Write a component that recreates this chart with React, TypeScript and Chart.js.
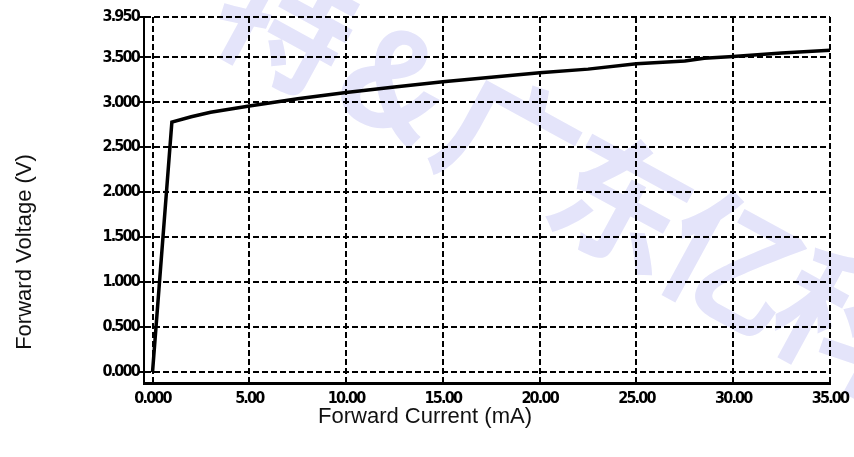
import React, { useEffect, useRef } from "react";
import { Chart, registerables } from "chart.js";

Chart.register(...registerables);

// Data
const currentMA = [0, 1, 2, 3, 5, 7.5, 10, 12.5, 15, 17.5, 20, 22.5, 25, 27.5, 28.5, 30, 32.5, 35];
const voltageV = [0, 2.78, 2.84, 2.89, 2.96, 3.04, 3.11, 3.17, 3.23, 3.28, 3.33, 3.37, 3.43, 3.46, 3.49, 3.51, 3.55, 3.58];
const xTickValues = [0, 5, 10, 15, 20, 25, 30, 35];
const yTickValues = [0, 0.5, 1, 1.5, 2, 2.5, 3, 3.5, 3.95];
const xTitle = "Forward Current (mA)";
const yTitle = "Forward Voltage (V)";
const watermarkChars = ["特", "&", "广", "东", "亿", "科"];

const TICK_FONT = { family: "'Liberation Sans Narrow', 'DejaVu Sans Condensed', sans-serif", size: 16, weight: "bold" as const };

const decorPlugin = {
  id: "decor",
  beforeDraw(chart: any) {
    const ctx = chart.ctx;
    ctx.save();
    ctx.fillStyle = "#e4e4fa";
    ctx.font = "bold 135px 'Noto Sans CJK SC', sans-serif";
    ctx.textAlign = "center";
    ctx.textBaseline = "middle";
    const ang = Math.atan2(60, 110);
    watermarkChars.forEach((ch, i) => {
      const cx = 285 + 112 * i;
      const cy = 22 + 60 * i;
      ctx.save();
      ctx.translate(cx, cy);
      ctx.rotate(ang);
      ctx.fillText(ch, 0, 0);
      ctx.restore();
    });
    ctx.restore();
    // tight spacing for the condensed tick labels
    ctx.letterSpacing = "-1.8px";
  },
  afterDraw(chart: any) {
    const ctx = chart.ctx;
    ctx.letterSpacing = "0px";
    ctx.save();
    ctx.fillStyle = "#111111";
    ctx.font = "22px 'Liberation Sans', Arial, sans-serif";
    ctx.textAlign = "center";
    ctx.textBaseline = "middle";
    ctx.fillText(xTitle, 425, 417);
    ctx.translate(25, 252);
    ctx.rotate(-Math.PI / 2);
    ctx.fillText(yTitle, 0, 0);
    ctx.restore();
  },
};

export default function App() {
  const ref = useRef<HTMLCanvasElement | null>(null);
  useEffect(() => {
    if (!ref.current) return;
    const chart = new Chart(ref.current, {
      type: "scatter",
      data: {
        datasets: [
          {
            data: currentMA.map((x, i) => ({ x, y: voltageV[i] })),
            showLine: true,
            borderColor: "#000000",
            borderWidth: 3.5,
            pointRadius: 0,
            tension: 0,
          },
        ],
      },
      plugins: [decorPlugin],
      options: {
        responsive: false,
        animation: false,
        layout: { padding: { left: 0, top: 17, right: 24, bottom: 0 } },
        plugins: { legend: { display: false }, tooltip: { enabled: false }, title: { display: false } },
        scales: {
          x: {
            type: "linear",
            min: -0.44,
            max: 35,
            afterBuildTicks: (s: any) => {
              s.ticks = xTickValues.map((v) => ({ value: v }));
            },
            afterFit: (s: any) => {
              s.height = 74;
              s.paddingLeft = 0;
              s.paddingRight = 0;
            },
            border: { display: true, color: "#000000", width: 3, dash: [6, 3] },
            grid: {
              color: "#000000",
              lineWidth: 2,
              drawTicks: false,
            },
            ticks: {
              autoSkip: false,
              maxRotation: 0,
              padding: 6,
              color: "#000000",
              font: TICK_FONT,
              callback: (v: any) => (Number(v) === 0 ? "0.000" : Number(v).toFixed(2)),
            },
          },
          y: {
            type: "linear",
            min: -0.122,
            max: 3.95,
            afterBuildTicks: (s: any) => {
              s.ticks = yTickValues.map((v) => ({ value: v }));
            },
            afterFit: (s: any) => {
              s.width = 144;
              s.paddingTop = 0;
              s.paddingBottom = 0;
            },
            border: { display: true, color: "#000000", width: 2, dash: [6, 3] },
            grid: {
              color: "#000000",
              lineWidth: 2,
              drawTicks: true,
              tickLength: 5,
              tickColor: "#000000",
              tickWidth: 2,
              tickBorderDash: [],
            },
            ticks: {
              autoSkip: false,
              padding: 0,
              color: "#000000",
              font: TICK_FONT,
              callback: (v: any) => Number(v).toFixed(3),
            },
          },
        },
      },
    } as any);
    return () => chart.destroy();
  }, []);
  return (
    <div style={{ position: "absolute", left: 0, top: 0, width: 854, height: 457, background: "#ffffff" }}>
      <canvas ref={ref} width={854} height={457} style={{ display: "block" }} />
    </div>
  );
}
